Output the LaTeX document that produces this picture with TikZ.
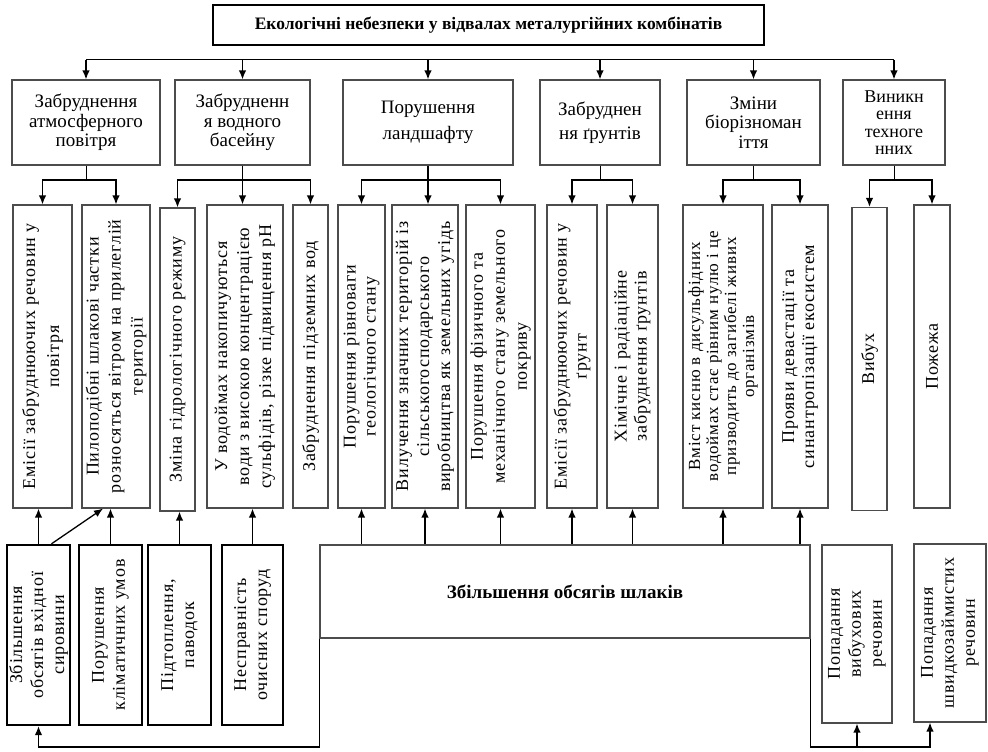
\documentclass[tikz,border=0pt]{standalone}
\usepackage{fontspec}
\setmainfont{Liberation Serif}
\newfontfamily\boxfont[LetterSpace=5]{Liberation Serif}
\usepackage{tikz}
\usetikzlibrary{positioning,arrows.meta}

\begin{document}
\begin{tikzpicture}[
    x=1pt, y=-1pt,
    headbox/.style={rectangle, draw, line width=1.6pt, minimum width=551pt, minimum height=40pt, font=\bfseries\fontsize{17.5}{19}\selectfont},
    group/.style={rectangle, draw=black!70, line width=1.2pt, align=center, minimum height=85pt, inner sep=2pt, font=\fontsize{19}{19.5}\selectfont},
    effect/.style={rectangle, draw=black!70, line width=1.2pt, rotate=90, align=center, minimum width=303pt, inner sep=1pt, font=\boxfont\fontsize{18}{22}\selectfont},
    cause/.style={rectangle, draw, line width=2.4pt, rotate=90, align=center, minimum width=180pt, inner sep=1pt, font=\boxfont\fontsize{18}{21}\selectfont},
    source/.style={rectangle, draw=black!70, line width=1.2pt, rotate=90, align=center, minimum width=178pt, inner sep=1pt, font=\boxfont\fontsize{18}{21}\selectfont},
    slag/.style={rectangle, draw=black!70, line width=1.2pt, minimum width=490pt, minimum height=93pt, font=\bfseries\fontsize{19}{21}\selectfont},
    arrow/.style={-{Latex[length=9pt,width=7.5pt]}, line width=1.3pt},
    link/.style={line width=1pt}
]
\useasboundingbox (0,0) rectangle (988,752);

% Title
\node[headbox] (head) at (488.5,25) {Екологічні небезпеки у відвалах металургійних комбінатів};
\coordinate (bar) at (0,60);
\coordinate (mid) at (0,180);
\coordinate (low) at (0,747);

% Groups
\node[group, minimum width=148pt] (air) at (86,122.5) {Забруднення\\атмосферного\\повітря};
\node[group, minimum width=135pt] (water) at (242.5,122.5) {Забрудненн\\я водного\\басейну};
\node[group, minimum width=170pt, font=\fontsize{19}{26}\selectfont] (land) at (428,122.5) {Порушення\\ландшафту};
\node[group, minimum width=120pt, font=\fontsize{19}{24}\selectfont] (soil) at (600,122.5) {Забруднен\\ня ґрунтів};
\node[group, minimum width=133pt] (bio) at (753.5,122.5) {Зміни\\біорізноман\\іття};
\node[group, minimum width=102pt, font=\fontsize{18}{17.5}\selectfont] (tech) at (894,122.5) {Виникн\\ення\\техноге\\нних};

% Effects
\node[effect, minimum height=59pt, font=\boxfont\fontsize{18}{24}\selectfont] (m1) at (42.5,356.5) {Емісії забруднюючих речовин у\\повітря};
\node[effect, minimum height=68pt] (m2) at (116,356.5) {Пилоподібні шлакові частки\\розносяться вітром на прилеглій\\території};
\node[effect, minimum height=35pt] (m3) at (177.5,359.5) {Зміна гідрологічного режиму};
\node[effect, minimum height=76pt] (m4) at (245,356.5) {У водоймах накопичуються\\води з високою концентрацією\\сульфідів, різке підвищення рН};
\node[effect, minimum height=35pt] (m5) at (310.5,356.5) {Забруднення підземних вод};
\node[effect, minimum height=47pt, font=\boxfont\fontsize{18}{20}\selectfont] (m6) at (361.5,356.5) {Порушення рівноваги\\геологічного стану};
\node[effect, minimum height=66pt, font=\boxfont\fontsize{18}{21}\selectfont] (m7) at (425,356.5) {Вилучення значних територій із\\сільськогосподарського\\виробництва як земельних угідь};
\node[effect, minimum height=69pt] (m8) at (500.5,356.5) {Порушення фізичного та\\механічного стану земельного\\покриву};
\node[effect, minimum height=50pt, font=\boxfont\fontsize{18}{20}\selectfont] (m9) at (572,356.5) {Емісії забруднюючих речовин у\\ґрунт};
\node[effect, minimum height=51pt, font=\boxfont\fontsize{18}{20}\selectfont] (m10) at (632.5,356.5) {Хімічне і радіаційне\\забруднення ґрунтів};
\node[effect, minimum height=80pt, font=\boxfont\fontsize{17}{18}\selectfont] (m11) at (723,356.5) {Вміст кисню в дисульфідних\\водоймах стає рівним нулю і це\\призводить до загибелі живих\\організмів};
\node[effect, minimum height=56pt, font=\boxfont\fontsize{18}{20}\selectfont] (m12) at (800,356.5) {Прояви девастації та\\синантропізації екосистем};
\node[effect, minimum height=35pt] (m13) at (869.5,359) {Вибух};
\node[effect, minimum height=36pt] (m14) at (932,356.5) {Пожежа};

% Causes
\node[cause, minimum height=63pt] (rawin) at (38.5,635) {Збільшення\\обсягів вхідної\\сировини};
\node[cause, minimum height=63pt] (climate) at (110.5,635) {Порушення\\кліматичних умов};
\node[cause, minimum height=63pt] (flood) at (179.5,635) {Підтоплення,\\паводок};
\node[cause, minimum height=61pt] (plant) at (252.5,635) {Несправність\\очисних споруд};
\node[slag] (slag) at (565,591.5) {Збільшення обсягів шлаків};
\node[source, minimum height=70pt] (blast) at (857,634) {Попадання\\вибухових\\речовин};
\node[source, minimum height=72pt] (fuel) at (950,633) {Попадання\\швидкозаймистих\\речовин};
\coordinate (fin) at ([xshift=-20pt]fuel.west);

% Title to groups
\draw[link] (air.north |- bar) -- (tech.north |- bar);
\draw[arrow] (air.north |- bar) -- (air.north);
\draw[arrow] (water.north |- bar) -- (water.north);
\draw[arrow] (land.north |- bar) -- (land.north);
\draw[arrow] (soil.north |- bar) -- (soil.north);
\draw[arrow] (bio.north |- bar) -- (bio.north);
\draw[arrow] (tech.north |- bar) -- (tech.north);

% Groups to effects
\draw[link] (air.south) -- (air.south |- mid);
\draw[arrow] (air.south |- mid) -| (m1.east);
\draw[arrow] (air.south |- mid) -| (m2.east);
\draw[arrow] (water.south) -- (water.south |- m4.east);
\draw[arrow] (water.south |- mid) -| (m3.east);
\draw[arrow] (water.south |- mid) -| (m5.east);
\draw[arrow] (land.south) -- (land.south |- m7.east);
\draw[arrow] (land.south |- mid) -| (m6.east);
\draw[arrow] (land.south |- mid) -| (m8.east);
\draw[link] (soil.south) -- (soil.south |- mid);
\draw[arrow] (soil.south |- mid) -| (m9.east);
\draw[arrow] (soil.south |- mid) -| (m10.east);
\draw[link] (bio.south) -- (bio.south |- mid);
\draw[arrow] (bio.south |- mid) -| (m11.east);
\draw[arrow] (bio.south |- mid) -| (m12.east);
\draw[link] (tech.south) -- (tech.south |- mid);
\draw[arrow] (tech.south |- mid) -| (m13.east);
\draw[arrow] (tech.south |- mid) -| (m14.east);

% Causes to effects
\draw[arrow] (rawin.east) -- (rawin.east |- m1.west);
\draw[arrow] ([xshift=13pt]rawin.east) -- ([xshift=-13pt]m2.west);
\draw[arrow] (climate.east) -- (climate.east |- m2.west);
\draw[arrow] (flood.east) -- (flood.east |- m3.west);
\draw[arrow] (plant.east) -- (plant.east |- m4.west);
\draw[arrow] (slag.north -| m6.west) -- (m6.west);
\draw[arrow] (slag.north -| m7.west) -- (m7.west);
\draw[arrow] (slag.north -| m8.west) -- (m8.west);
\draw[arrow] (slag.north -| m9.west) -- (m9.west);
\draw[arrow] (slag.north -| m10.west) -- (m10.west);
\draw[arrow] (slag.north -| m11.west) -- (m11.west);
\draw[arrow] (slag.north -| m12.west) -- (m12.west);

% Loops below
\draw[arrow] (slag.south west) |- (rawin.west |- low) -- (rawin.west);
\draw[arrow] (slag.south east) |- (fin |- low) -- (fin);
\draw[arrow] (blast.west |- low) -- (blast.west);

\end{tikzpicture}
\end{document}
